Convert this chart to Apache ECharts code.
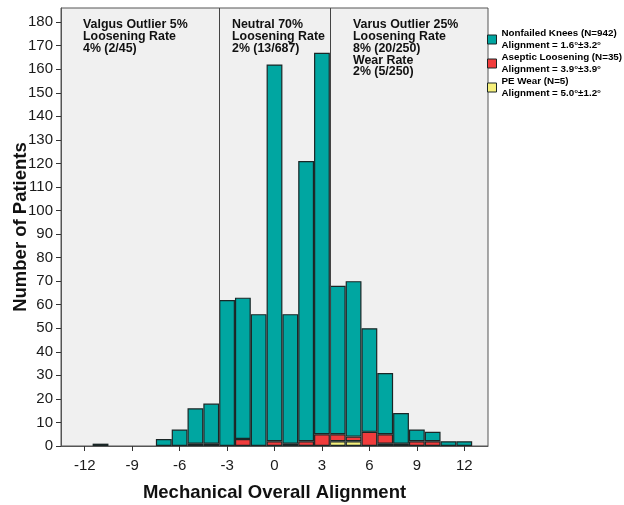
<!DOCTYPE html>
<html>
<head>
<meta charset="utf-8">
<script src="https://cdn.jsdelivr.net/npm/echarts@6/dist/echarts.min.js"></script>
<style>
html,body{margin:0;padding:0;background:#fff;}
#chart{width:624px;height:505px;}
</style>
</head>
<body>
<div id="chart"></div>
<script>
// Bins (mechanical alignment, degrees)
var bins = [-13,-12,-11,-10,-9,-8,-7,-6,-5,-4,-3,-2,-1,0,1,2,3,4,5,6,7,8,9,10,11,12,13];
var nonfailed = [0,0,1,0,0,0,3,7,15,17,62,60,56,160,55,119,162,63,66,44,26,13,5,4,2,2,0];
var aseptic   = [0,0,0,0,0,0,0,0,1,1,0,3,0,2,1,2,5,3,2,6,4,1,2,2,0,0,0];
var peWear    = [0,0,0,0,0,0,0,0,0,0,0,0,0,0,0,0,0,2,2,0,1,0,0,0,0,0,0];
var seriesNames = ['Nonfailed Knees (N=942)', 'Aseptic Loosening (N=35)', 'PE Wear (N=5)'];
var seriesAlign = ['Alignment = 1.6°±3.2°', 'Alignment = 3.9°±3.9°', 'Alignment = 5.0°±1.2°'];
var xTickLabels = [-12,-9,-6,-3,0,3,6,9,12];
var yTickLabels = [0,10,20,30,40,50,60,70,80,90,100,110,120,130,140,150,160,170,180];
var boundaries = [-3.5, 3.5];
var regionTexts = [
  'Valgus Outlier 5%\nLoosening Rate\n4% (2/45)',
  'Neutral 70%\nLoosening Rate\n2% (13/687)',
  'Varus Outlier 25%\nLoosening Rate\n8% (20/250)\nWear Rate\n2% (5/250)'
];

var FONT = 'Arial, "Liberation Sans", sans-serif';
var colors = ['#00a6a1', '#f03c3c', '#f6f07c'];
var border = '#1a2626';

function clean(arr){ return arr.map(function(v){ return v === 0 ? '-' : v; }); }

var chart = echarts.init(document.getElementById('chart'), null, {renderer:'canvas'});
var alignMap = {};
seriesNames.forEach(function(n,i){ alignMap[n] = seriesAlign[i]; });

function barSeries(name, data, color, z){
  return {
    name: name, type: 'bar', stack: 'all', xAxisIndex: 0, yAxisIndex: 0,
    data: clean(data), barWidth: '100%', barGap: '0%', z: z,
    itemStyle: { color: color, borderColor: border, borderWidth: 1.2 },
    emphasis: { disabled: true }, animation: false
  };
}

var option = {
  animation: false,
  backgroundColor: '#ffffff',
  grid: { left: 61, right: 136, top: 8, bottom: 59, show: true, containLabel: false,
          outerBoundsMode: 'none',
          backgroundColor: '#f0f0f0', borderColor: '#555', borderWidth: 1 },
  legend: {
    data: seriesNames, orient: 'vertical', left: 487, top: 28,
    itemWidth: 9, itemHeight: 9, itemGap: 1, padding: 0,
    icon: 'rect',
    itemStyle: { borderColor: border, borderWidth: 1 },
    formatter: function(n){ return n + '\n' + alignMap[n]; },
    textStyle: { fontFamily: FONT, fontSize: 9.8, fontWeight: 'bold', color: '#000', lineHeight: 11.5 },
    selectedMode: false
  },
  xAxis: [{
    type: 'category', data: bins, boundaryGap: true,
    axisLine: { show: true, onZero: false, lineStyle: { color: '#555' } },
    axisTick: { show: true, alignWithLabel: true, length: 5, lineStyle: { color: '#333' },
      interval: function(i, v){ return xTickLabels.indexOf(Number(v)) >= 0; } },
    axisLabel: { interval: function(i, v){ return xTickLabels.indexOf(Number(v)) >= 0; },
      fontFamily: FONT, fontSize: 15, color: '#1a1a1a', margin: 12 },
    splitLine: { show: false },
    name: 'Mechanical Overall Alignment', nameLocation: 'middle', nameGap: 37, nameMoveOverlap: false,
    nameTextStyle: { fontFamily: FONT, fontSize: 18.5, fontWeight: 'bold', color: '#111' }
  }, {
    type: 'value', min: -13.5, max: 13.5, show: false
  }],
  yAxis: {
    type: 'value', min: 0, max: 186, interval: 10,
    axisLine: { show: true, onZero: false, lineStyle: { color: '#555' } },
    axisTick: { show: true, length: 5, lineStyle: { color: '#333' }, customValues: yTickLabels },
    axisLabel: { fontFamily: FONT, fontSize: 15, color: '#1a1a1a', margin: 8, customValues: yTickLabels },
    splitLine: { show: false },
    name: 'Number of Patients', nameLocation: 'middle', nameGap: 31, nameRotate: 90, nameMoveOverlap: false,
    nameTextStyle: { fontFamily: FONT, fontSize: 18.5, fontWeight: 'bold', color: '#111' }
  },
  series: [
    barSeries(seriesNames[2], peWear, colors[2], 3),
    barSeries(seriesNames[1], aseptic, colors[1], 3),
    barSeries(seriesNames[0], nonfailed, colors[0], 3),
    {
      type: 'line', xAxisIndex: 1, yAxisIndex: 0, data: [], silent: true,
      markLine: {
        symbol: 'none', silent: true, animation: false,
        lineStyle: { color: '#444', width: 1, type: 'solid' },
        label: { show: false },
        data: boundaries.map(function(b){ return { xAxis: b }; })
      }
    }
  ],
  graphic: [
    { type: 'text', left: 83, top: 19, style: { text: regionTexts[0], font: 'bold 12.4px ' + FONT, fill: '#111', lineHeight: 11.7 } },
    { type: 'text', left: 232, top: 19, style: { text: regionTexts[1], font: 'bold 12.4px ' + FONT, fill: '#111', lineHeight: 11.7 } },
    { type: 'text', left: 353, top: 19, style: { text: regionTexts[2], font: 'bold 12.4px ' + FONT, fill: '#111', lineHeight: 11.7 } }
  ]
};
chart.setOption(option);
</script>
</body>
</html>
